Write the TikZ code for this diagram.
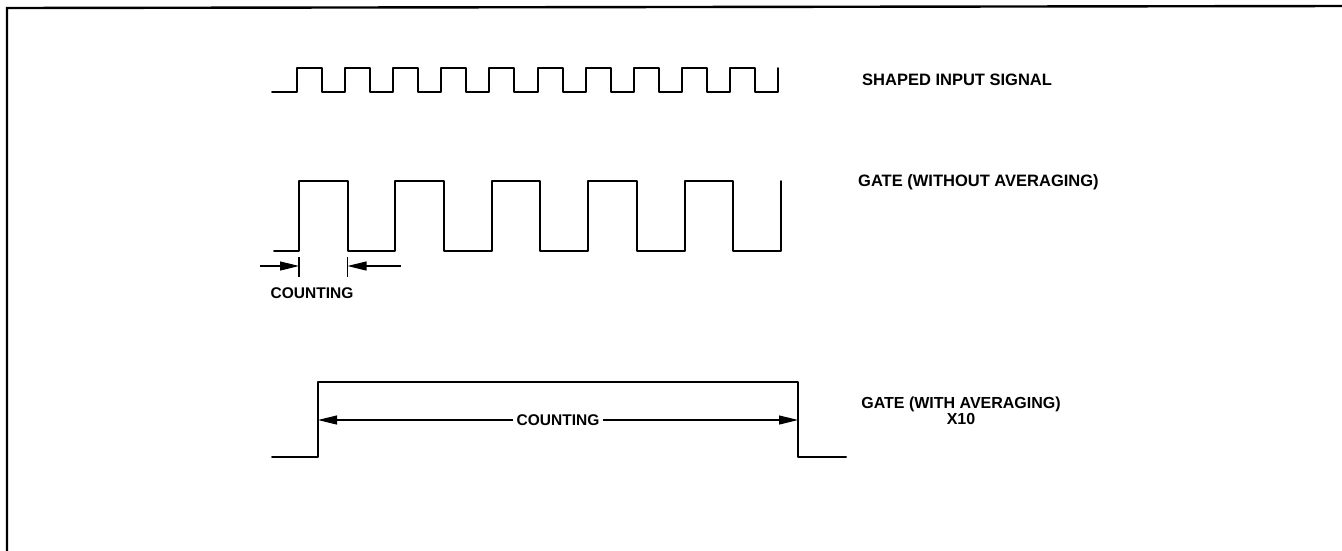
\documentclass[tikz,border=0pt]{standalone}
\usepackage{fontspec}
\setmainfont{Liberation Sans}
\usetikzlibrary{arrows.meta}
\tikzset{
  wave/.style={line width=2pt, line join=round, line cap=round},
  frameline/.style={line width=2.4pt},
  lab/.style={font=\bfseries\fontsize{16.5}{15}\selectfont, inner sep=0pt, anchor=west},
  cnt/.style={font=\bfseries\fontsize{15.5}{15}\selectfont, inner sep=0pt},
  dim/.style={line width=1.2pt},
  tick/.style={line width=1.4pt},
  tip/.style={-{Triangle[length=19pt,width=9pt]}},
}
\begin{document}
\begin{tikzpicture}[x=1pt,y=-1pt]
\useasboundingbox (0,0) rectangle (1342,550);
% frame
\draw[frameline] (1345,6) -- (7,8) -- (7,552);
% shaped input signal
\draw[wave] (272,92) foreach \k in {0,...,9} { -- ({297+48.1*\k},92) -- ({297+48.1*\k},68) -- ({322+48.1*\k},68) -- ({322+48.1*\k},92) } -- (778,92) -- (778,68);
\node[lab] (lin) at (862,80) {SHAPED INPUT SIGNAL};
% gate without averaging
\draw[wave] (274,251) foreach \k in {0,...,4} { -- ({299+96.4*\k},251) -- ({299+96.4*\k},181) -- ({347.5+96.4*\k},181) -- ({347.5+96.4*\k},251) } -- (781,251) -- (781,181);
\node[lab] (lgate) at (858,182) {GATE (WITHOUT AVERAGING)};
\coordinate (t1a) at (299,257);
\coordinate (t1b) at (299,277);
\coordinate (t2a) at (347.5,257);
\coordinate (t2b) at (347.5,277);
\coordinate (a1s) at (260,266);
\coordinate (a1e) at (299,266);
\coordinate (a2s) at (401,266);
\coordinate (a2e) at (347.5,266);
\draw[tick] (t1a) -- (t1b);
\draw[tick] (t2a) -- (t2b);
\draw[dim,tip] (a1s) -- (a1e);
\draw[dim,tip] (a2s) -- (a2e);
\node[cnt] (c1) at (312,293) {COUNTING};
% gate with averaging
\draw[wave] (272,457) -- (318,457) -- (318,382) -- (798,382) -- (798,457) -- (846,457);
\coordinate (bl) at (318,420);
\coordinate (br) at (798,420);
\node[cnt, fill=white, inner xsep=3pt] (c2) at (558,420) {COUNTING};
\draw[dim,tip] (c2.west) -- (bl);
\draw[dim,tip] (c2.east) -- (br);
\node[font=\bfseries\fontsize{16}{15.5}\selectfont, inner sep=0pt, align=center] (lavg) at (961,411) {GATE (WITH AVERAGING)\\X10};
\end{tikzpicture}
\end{document}
